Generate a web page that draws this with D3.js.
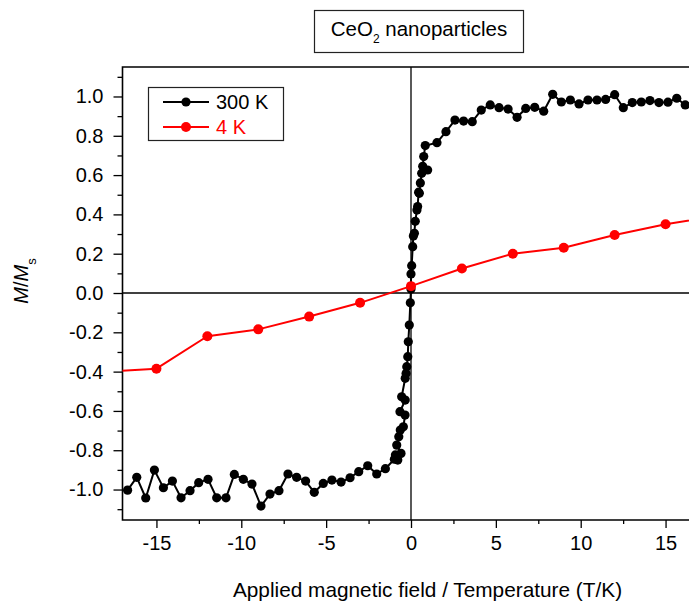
<!DOCTYPE html>
<html>
<head>
<meta charset="utf-8">
<script src="https://cdn.jsdelivr.net/npm/d3@7"></script>
<style>
  html, body { margin: 0; padding: 0; background: #fff; }
  svg { display: block; font-family: "Liberation Sans", Arial, sans-serif; }
</style>
</head>
<body>
<svg id="chart" width="689" height="604"></svg>
<script>
// Magnetisation curves of CeO2 nanoparticles, normalised to saturation

// 300 K sweep
const field300 = [
  -16.7, -16.16, -15.63, -15.12, -14.59, -14.06, -13.55, -13.02, -12.51, -11.96,
  -11.45, -10.9, -10.41, -9.88, -9.37, -8.84, -8.31, -7.78, -7.25, -6.74,
  -6.21, -5.7, -5.17, -4.66, -4.12, -3.59, -3.08, -2.55, -2.02, -1.51,
  -0.98, -0.78, -0.92, -0.59, -0.84, -0.72, -0.63, -0.45, -0.35, -0.65,
  -0.34, -0.55, -0.34, -0.29, -0.25, -0.19, -0.16, -0.1, -0.04, 0.0,
  0.0, 0.04, 0.1, 0.14, 0.2, 0.25, 0.35, 0.39, 0.45, 0.49,
  0.55, 0.63, 0.98, 0.69, 0.75, 0.84, 1.53, 2.06, 2.59, 3.1,
  3.61, 4.14, 4.67, 5.19, 5.72, 6.25, 6.76, 7.29, 7.82, 8.35,
  8.86, 9.39, 9.9, 10.43, 10.96, 11.47, 12.0, 12.51, 13.04, 13.57,
  14.08, 14.61, 15.14, 15.66, 16.16, 16.69
];
const moment300 = [
  -1.003, -0.938, -1.043, -0.901, -0.991, -0.957, -1.042, -1.006, -0.965, -0.948,
  -1.042, -1.042, -0.923, -0.948, -0.972, -1.084, -1.023, -1.006, -0.921, -0.938,
  -0.957, -1.014, -0.969, -0.952, -0.962, -0.94, -0.909, -0.879, -0.921, -0.894,
  -0.846, -0.85, -0.824, -0.816, -0.774, -0.731, -0.697, -0.681, -0.621, -0.604,
  -0.545, -0.528, -0.434, -0.409, -0.375, -0.324, -0.248, -0.163, -0.05, 0.02,
  0.097, 0.139, 0.236, 0.29, 0.304, 0.365, 0.422, 0.44, 0.513, 0.507,
  0.56, 0.609, 0.626, 0.645, 0.694, 0.75, 0.765, 0.821, 0.88, 0.875,
  0.872, 0.931, 0.957, 0.943, 0.936, 0.894, 0.939, 0.945, 0.925, 1.011,
  0.972, 0.982, 0.962, 0.982, 0.982, 0.985, 1.009, 0.943, 0.969, 0.972,
  0.979, 0.969, 0.971, 0.991, 0.957, 0.93
];

// 4 K sweep
const field4 = [-18, -15, -12, -9, -6, -3, 0, 3, 6, 9, 12, 15, 18];
const moment4 = [-0.40, -0.385, -0.22, -0.185, -0.12, -0.05, 0.035, 0.125, 0.2, 0.23, 0.295, 0.35, 0.39];

const seriesNames = ["300 K", "4 K"];
const seriesColors = ["#000000", "#ff0000"];

const xMajorTicks = [-15, -10, -5, 0, 5, 10, 15];
const xTickLabels = ["-15", "-10", "-5", "0", "5", "10", "15"];
const xMinorTicks = [-12.5, -7.5, -2.5, 2.5, 7.5, 12.5];
const yMajorTicks = [-1.0, -0.8, -0.6, -0.4, -0.2, 0.0, 0.2, 0.4, 0.6, 0.8, 1.0];
const yTickLabels = ["-1.0", "-0.8", "-0.6", "-0.4", "-0.2", "0.0", "0.2", "0.4", "0.6", "0.8", "1.0"];
const yMinorTicks = [-1.1, -0.9, -0.7, -0.5, -0.3, -0.1, 0.1, 0.3, 0.5, 0.7, 0.9, 1.1];

const svg = d3.select("#chart");
const font = '"Liberation Sans", Arial, sans-serif';

const plot = { left: 122.5, right: 699.5, top: 67, bottom: 520 };
const x = d3.scaleLinear().domain([-17, 17]).range([plot.left, plot.right]);
const y = d3.scaleLinear().domain([-1.155, 1.15]).range([plot.bottom, plot.top]);

svg.append("defs").append("clipPath").attr("id", "plotClip")
  .append("rect")
  .attr("x", plot.left).attr("y", plot.top)
  .attr("width", plot.right - plot.left).attr("height", plot.bottom - plot.top);

// zero reference lines
svg.append("line")
  .attr("x1", plot.left).attr("x2", plot.right)
  .attr("y1", y(0)).attr("y2", y(0))
  .attr("stroke", "#000").attr("stroke-width", 1.3);
svg.append("line")
  .attr("x1", x(0)).attr("x2", x(0))
  .attr("y1", plot.top).attr("y2", plot.bottom)
  .attr("stroke", "#000").attr("stroke-width", 1.3);

// axes
const xAxisMajor = d3.axisBottom(x).tickValues(xMajorTicks).tickSize(8).tickPadding(8)
  .tickFormat((d, i) => xTickLabels[i]);
const xAxisMinor = d3.axisBottom(x).tickValues(xMinorTicks).tickSize(4).tickFormat("");
const yAxisMajor = d3.axisLeft(y).tickValues(yMajorTicks).tickSize(9).tickPadding(10)
  .tickFormat((d, i) => yTickLabels[i]);
const yAxisMinor = d3.axisLeft(y).tickValues(yMinorTicks).tickSize(5).tickFormat("");

function styleAxis(g) {
  g.select(".domain").remove();
  g.selectAll(".tick line").attr("stroke", "#000").attr("stroke-width", 1.3);
  g.selectAll(".tick text").attr("fill", "#000").attr("font-family", font).attr("font-size", 20);
}
svg.append("g").attr("transform", `translate(0,${plot.bottom})`).call(xAxisMajor).call(styleAxis);
svg.append("g").attr("transform", `translate(0,${plot.bottom})`).call(xAxisMinor).call(styleAxis);
svg.append("g").attr("transform", `translate(${plot.left},0)`).call(yAxisMajor).call(styleAxis);
svg.append("g").attr("transform", `translate(${plot.left},0)`).call(yAxisMinor).call(styleAxis);

// frame (right side lies beyond the visible area)
svg.append("path")
  .attr("d", `M${plot.right},${plot.top}H${plot.left}V${plot.bottom}H${plot.right}`)
  .attr("fill", "none").attr("stroke", "#000").attr("stroke-width", 1.6);

// data
const data300 = field300.map((f, i) => ({ f, m: moment300[i] }));
const data4 = field4.map((f, i) => ({ f, m: moment4[i] }));
const lineGen = d3.line().x(d => x(d.f)).y(d => y(d.m));
const dataLayer = svg.append("g").attr("clip-path", "url(#plotClip)");

function drawSeries(data, color, r) {
  dataLayer.append("path").datum(data)
    .attr("d", lineGen).attr("fill", "none")
    .attr("stroke", color).attr("stroke-width", 2).attr("stroke-linejoin", "round");
  dataLayer.append("g").selectAll("circle").data(data).join("circle")
    .attr("cx", d => x(d.f)).attr("cy", d => y(d.m)).attr("r", r).attr("fill", color);
}
drawSeries(data300, seriesColors[0], 4.6);
drawSeries(data4, seriesColors[1], 5);

// legend
const legend = svg.append("g");
legend.append("rect").attr("x", 148.5).attr("y", 87.5).attr("width", 135).attr("height", 53)
  .attr("fill", "#fff").attr("stroke", "#222").attr("stroke-width", 1.2);
seriesNames.forEach((name, i) => {
  const cy = 102 + i * 25;
  legend.append("line").attr("x1", 163).attr("x2", 209).attr("y1", cy).attr("y2", cy)
    .attr("stroke", seriesColors[i]).attr("stroke-width", 2);
  legend.append("circle").attr("cx", 186).attr("cy", cy).attr("r", i === 0 ? 4.6 : 5)
    .attr("fill", seriesColors[i]);
  legend.append("text").attr("x", 216).attr("y", cy + 7)
    .attr("font-family", font).attr("font-size", 20).attr("fill", seriesColors[i])
    .text(name);
});

// title box
const titleG = svg.append("g");
titleG.append("rect").attr("x", 314.5).attr("y", 10.5).attr("width", 209).attr("height", 42)
  .attr("fill", "#fff").attr("stroke", "#222").attr("stroke-width", 1.2);
const title = titleG.append("text").attr("x", 419).attr("y", 36)
  .attr("text-anchor", "middle").attr("font-family", font).attr("font-size", 20.5).attr("fill", "#000");
title.append("tspan").text("CeO");
title.append("tspan").attr("font-size", 12).attr("dy", 7).text("2");
title.append("tspan").attr("dy", -7).text(" nanoparticles");

// axis titles
svg.append("text").attr("x", 427.5).attr("y", 597)
  .attr("text-anchor", "middle").attr("font-family", font).attr("font-size", 20.8).attr("fill", "#000")
  .text("Applied magnetic field / Temperature (T/K)");

const yTitle = svg.append("text")
  .attr("transform", "translate(28,281) rotate(-90)")
  .attr("text-anchor", "middle").attr("font-family", font).attr("font-size", 20).attr("fill", "#000");
yTitle.append("tspan").attr("font-style", "italic").text("M");
yTitle.append("tspan").text("/");
yTitle.append("tspan").attr("font-style", "italic").text("M");
yTitle.append("tspan").attr("font-size", 13).attr("dy", 8).text("s");
</script>
</body>
</html>
